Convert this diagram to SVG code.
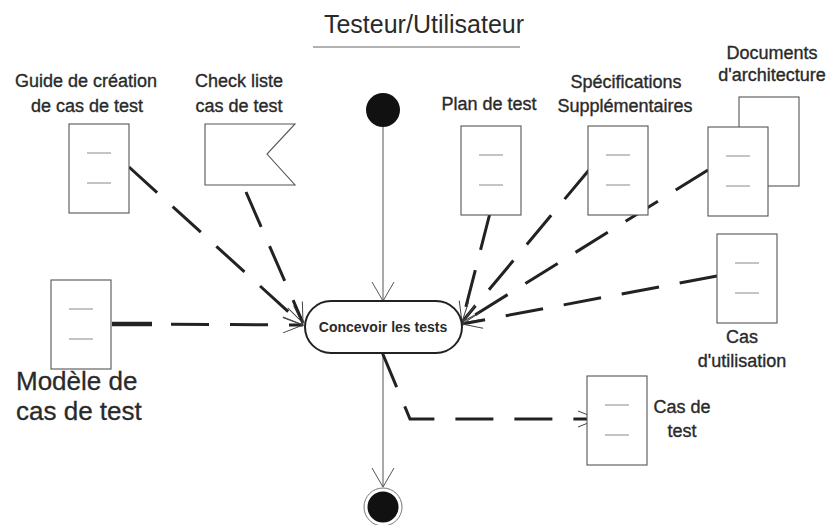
<svg xmlns="http://www.w3.org/2000/svg" xmlns:xlink="http://www.w3.org/1999/xlink" width="827" height="525" viewBox="0 0 827 525">
  <style>
    text { font-family: "Liberation Sans", Arial, sans-serif; fill: #2a2a2a; }
    .lbl { font-size: 18px; text-anchor: middle; stroke: #2a2a2a; stroke-width: 0.35; }
    .big { font-size: 26px; stroke: #2a2a2a; stroke-width: 0.3; }
    .title { font-size: 25px; text-anchor: middle; }
    .act { font-size: 14px; font-weight: bold; text-anchor: middle; }
    .doc { fill: #fff; stroke: #555; stroke-width: 1.1; }
    .tick { stroke: #8a8a8a; stroke-width: 1; }
    .dep { fill: none; stroke: #222; stroke-width: 3; stroke-dasharray: 38 21; }
    .flow { fill: none; stroke: #555; stroke-width: 1; }
  </style>
  <defs>
    <marker id="open" markerUnits="userSpaceOnUse" markerWidth="30" markerHeight="30" viewBox="-25 -15 30 30" refX="0" refY="0" orient="auto">
      <path d="M -20 -8 L 0 0 L -20 8" fill="none" stroke="#444" stroke-width="1"/>
    </marker>
    <marker id="wide" markerUnits="userSpaceOnUse" markerWidth="30" markerHeight="30" viewBox="-25 -15 30 30" refX="0" refY="0" orient="auto">
      <path d="M -19 -11 L 0 0 L -19 11" fill="none" stroke="#555" stroke-width="1"/>
    </marker>
    <g id="docshape">
      <rect class="doc" x="0" y="0" width="60" height="89"/>
      <line class="tick" x1="18" y1="29" x2="42" y2="29"/>
      <line class="tick" x1="18" y1="59" x2="42" y2="59"/>
    </g>
  </defs>

  <rect width="827" height="525" fill="#fff"/>

  <!-- swimlane header -->
  <g id="lane">
    <text class="title" x="424" y="33">Testeur/Utilisateur</text>
    <line x1="313" y1="47" x2="520" y2="47" stroke="#666" stroke-width="1"/>
  </g>

  <!-- connectors -->
  <g id="connectors">
    <path class="flow" d="M383 127 L383 301" marker-end="url(#wide)"/>
    <path class="flow" d="M383 353 L383 487" marker-end="url(#wide)"/>
    <path class="dep" d="M129 167 L303 325" marker-end="url(#open)"/>
    <path class="dep" d="M246 192 L303 323" marker-end="url(#open)"/>
    <path class="dep" d="M112 324 L303 325" stroke-dasharray="40 20" marker-end="url(#open)"/>
    <line x1="112" y1="324" x2="152" y2="324" stroke="#222" stroke-width="4.5"/>
    <path class="dep" d="M490 213 L462 322" marker-end="url(#open)"/>
    <path class="dep" d="M589 170 L462 322" marker-end="url(#open)"/>
    <path class="dep" d="M708 170 L462 323" marker-end="url(#open)"/>
    <path class="dep" d="M717 276 L462 324" marker-end="url(#open)"/>
    <path class="dep" d="M382 352 L410 419 L598 419" marker-end="url(#open)"/>
  </g>

  <!-- initial state -->
  <g id="start">
    <circle cx="383" cy="110" r="17" fill="#111"/>
  </g>

  <!-- activity -->
  <g id="concevoir">
    <rect x="305" y="301" width="157" height="52" rx="26" ry="26" fill="#fff" stroke="#222" stroke-width="2"/>
    <text class="act" x="383" y="332">Concevoir les tests</text>
  </g>

  <!-- final state -->
  <g id="end">
    <circle cx="383" cy="507" r="19" fill="#fff" stroke="#777" stroke-width="1"/>
    <circle cx="383" cy="507" r="15.5" fill="#111"/>
  </g>

  <g id="guide">
    <use xlink:href="#docshape" x="69" y="124"/>
    <text class="lbl" x="86" y="87">Guide de création</text>
    <text class="lbl" x="87" y="112">de cas de test</text>
  </g>

  <g id="checklist">
    <polygon points="205,124 295,124 267,154 295,185 205,185" fill="#fff" stroke="#555" stroke-width="1.1"/>
    <text class="lbl" x="239" y="87">Check liste</text>
    <text class="lbl" x="239" y="112">cas de test</text>
  </g>

  <g id="plan">
    <use xlink:href="#docshape" x="461" y="126"/>
    <text class="lbl" x="489" y="110">Plan de test</text>
  </g>

  <g id="specs">
    <use xlink:href="#docshape" x="588" y="126"/>
    <text class="lbl" x="626" y="88">Spécifications</text>
    <text class="lbl" x="625" y="112">Supplémentaires</text>
  </g>

  <g id="architecture">
    <rect class="doc" x="739" y="97" width="60" height="89"/>
    <use xlink:href="#docshape" x="708" y="127"/>
    <text class="lbl" x="772" y="59">Documents</text>
    <text class="lbl" x="772" y="81">d'architecture</text>
  </g>

  <g id="usecases">
    <use xlink:href="#docshape" x="717" y="234"/>
    <text class="lbl" x="742" y="343">Cas</text>
    <text class="lbl" x="742" y="367">d'utilisation</text>
  </g>

  <g id="modele">
    <use xlink:href="#docshape" x="51" y="280"/>
    <text class="big" x="16" y="390">Modèle de</text>
    <text class="big" x="16" y="420">cas de test</text>
  </g>

  <g id="castest">
    <use xlink:href="#docshape" x="587" y="376"/>
    <text class="lbl" x="682" y="413">Cas de</text>
    <text class="lbl" x="682" y="437">test</text>
  </g>
</svg>
